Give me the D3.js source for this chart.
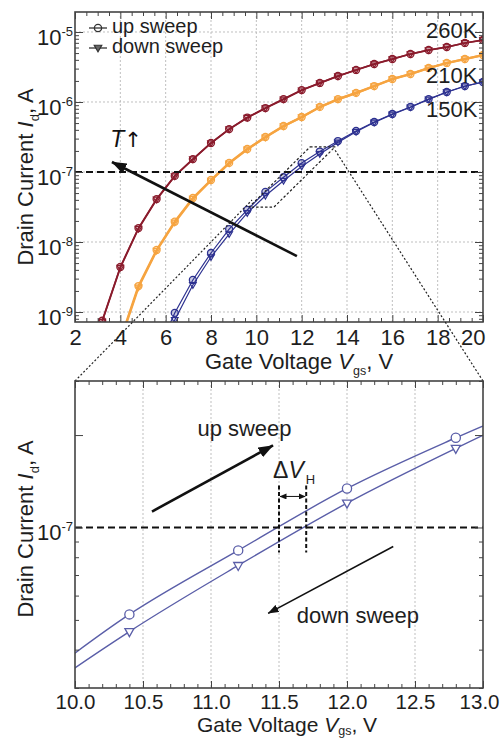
<!DOCTYPE html>
<html><head><meta charset="utf-8">
<script src="https://cdn.jsdelivr.net/npm/d3@7"></script>
<style>
body{margin:0;background:#fff}
text{font-family:"Liberation Sans",Arial,"DejaVu Sans",sans-serif;fill:#1e1e1e}
</style>
</head><body>
<svg id="c" width="502" height="738"></svg>
<script>
// ---------- data ----------
const vgs = [3.2,4.0,4.8,5.6,6.4,7.2,8.0,8.8,9.6,10.4,11.2,12.0,12.8,13.6,14.4,15.2,16.0,16.8,17.6,18.4,19.2,20.0];
const up260   = [7.5e-10,4.4e-9,1.58e-8,4.1e-8,8.8e-8,1.53e-7,2.6e-7,4.1e-7,6.0e-7,8.2e-7,1.1e-6,1.48e-6,1.87e-6,2.35e-6,2.87e-6,3.49e-6,4.11e-6,4.85e-6,5.53e-6,6.1e-6,6.97e-6,7.69e-6];
const down260 = [7.3e-10,4.3e-9,1.55e-8,4.05e-8,8.7e-8,1.52e-7,2.58e-7,4.08e-7,5.96e-7,8.15e-7,1.09e-6,1.47e-6,1.86e-6,2.34e-6,2.86e-6,3.48e-6,4.1e-6,4.84e-6,5.52e-6,6.09e-6,6.96e-6,7.68e-6];
const up210   = [null,4.0e-10,2.35e-9,7.7e-9,1.95e-8,4.25e-8,7.7e-8,1.35e-7,2.13e-7,3.16e-7,4.54e-7,6.1e-7,8.5e-7,1.1e-6,1.35e-6,1.69e-6,2.13e-6,2.51e-6,3.06e-6,3.61e-6,4.11e-6,4.69e-6];
const down210 = [null,3.8e-10,2.25e-9,7.5e-9,1.9e-8,4.15e-8,7.55e-8,1.33e-7,2.1e-7,3.12e-7,4.5e-7,6.05e-7,8.45e-7,1.09e-6,1.34e-6,1.68e-6,2.12e-6,2.5e-6,3.05e-6,3.6e-6,4.1e-6,4.68e-6];
const up150   = [null,null,null,2.5e-10,9.7e-10,2.87e-9,6.97e-9,1.53e-8,2.87e-8,5.21e-8,8.42e-8,1.34e-7,1.96e-7,2.77e-7,3.85e-7,5.18e-7,6.74e-7,8.5e-7,1.1e-6,1.39e-6,1.69e-6,1.93e-6];
const down150 = [null,null,null,1.8e-10,7.7e-10,2.43e-9,6.1e-9,1.3e-8,2.6e-8,4.58e-8,7.52e-8,1.2e-7,1.81e-7,2.65e-7,3.75e-7,5.1e-7,6.65e-7,8.4e-7,1.09e-6,1.38e-6,1.68e-6,1.92e-6];
const tempLabels = ["260K","210K","150K"];
const tempLabelPos = [8.2e-6,1.87e-6,6.1e-7];
const topXTicks = [2,4,6,8,10,12,14,16,18,20];
const topYTicks = [1e-9,1e-8,1e-7,1e-6,1e-5];
const botXTicks = [10.0,10.5,11.0,11.5,12.0,12.5,13.0];
const botYTicks = [1e-7];
const refCurrent = 1e-7;
const dVH = [11.5,11.7];

// ---------- setup ----------
const svg = d3.select("#c");
const xT = d3.scaleLinear().domain([2,20]).range([75,483]);
const yT = d3.scaleLog().domain([7.2e-10,1.93e-5]).range([322,12]);
const xB = d3.scaleLinear().domain([10,13]).range([75,483]);
const yB = d3.scaleLog().domain([3e-8,3e-7]).range([688,381]);

const defs = svg.append("defs");
function clip(id,x,y){defs.append("clipPath").attr("id",id).append("rect")
  .attr("x",x.range()[0]).attr("y",y.range()[1]).attr("width",x.range()[1]-x.range()[0]).attr("height",y.range()[0]-y.range()[1]);}
clip("clipT",xT,yT); clip("clipB",xB,yB);
function arrowDef(id,len,wid){
  defs.append("marker").attr("id",id).attr("markerUnits","userSpaceOnUse")
    .attr("viewBox",`0 ${-wid/2} ${len} ${wid}`).attr("refX",len-0.5).attr("refY",0)
    .attr("markerWidth",len).attr("markerHeight",wid).attr("orient","auto-start-reverse")
    .append("path").attr("d",`M0,${-wid/2}L${len},0L0,${wid/2}Z`).attr("fill","#111");
}
arrowDef("ahBig",15,11); arrowDef("ahMid",11,8); arrowDef("ahSmall",7,6);

const gridCol="#b8b8b8", axisCol="#444";

function logMinor(dom){const out=[];for(let e=-11;e<=-4;e++)for(let k=1;k<=9;k++){const v=k*Math.pow(10,e);if(v>=dom[0]*0.999&&v<=dom[1]*1.001)out.push(v);}return out;}

function frame(x,y,xMinorStep,xMajor,yMajor){
  const g=svg.append("g");
  const x0=x.range()[0],x1=x.range()[1],y0=y.range()[0],y1=y.range()[1];
  const xm=d3.range(x.domain()[0],x.domain()[1]+1e-9,xMinorStep);
  const ym=logMinor(y.domain());
  const isMaj=(arr,v)=>arr.some(a=>Math.abs(a-v)/Math.abs(a)<1e-6);
  [[d3.axisBottom,y0],[d3.axisTop,y1]].forEach(([ax,pos])=>{
    g.append("g").attr("transform",`translate(0,${pos})`).call(ax(x).tickValues(xm).tickSize(-4).tickFormat("").tickSizeOuter(0))
     .call(s=>{s.select(".domain").remove();s.selectAll("line").attr("stroke",axisCol).attr("y2",d=>isMaj(xMajor,d)?(pos===y0?-7:7):(pos===y0?-4:4));});
  });
  [[d3.axisLeft,x0],[d3.axisRight,x1]].forEach(([ax,pos])=>{
    g.append("g").attr("transform",`translate(${pos},0)`).call(ax(y).tickValues(ym).tickSize(-4).tickFormat("").tickSizeOuter(0))
     .call(s=>{s.select(".domain").remove();s.selectAll("line").attr("stroke",axisCol).attr("x2",d=>isMaj(yMajor,d)?(pos===x0?8:-8):(pos===x0?4:-4));});
  });
  g.append("rect").attr("x",x0).attr("y",y1).attr("width",x1-x0).attr("height",y0-y1)
    .attr("fill","none").attr("stroke",axisCol).attr("stroke-width",1.6);
}

function yLabels(scale,vals){
  vals.forEach(v=>{
    const e=Math.round(Math.log10(v));
    const t=svg.append("text").attr("x",73).attr("y",scale(v)+13).attr("text-anchor","end").attr("font-size",22);
    t.append("tspan").text("10");
    t.append("tspan").attr("font-size",13).attr("dy",-9).text(String(e));
  });
}
function xLabels(x,y,vals,fmt,pad,fs,lastEnd){
  const g=svg.append("g").attr("transform",`translate(0,${y.range()[0]})`)
    .call(d3.axisBottom(x).tickValues(vals).tickSize(0).tickPadding(pad).tickFormat(fmt))
    .call(s=>{s.select(".domain").remove();s.selectAll("text").attr("font-size",fs).attr("font-family",'"Liberation Sans",Arial,sans-serif').attr("fill","#1e1e1e");});
  const last=g.selectAll(".tick").filter((d,i,n)=>i===n.length-1);
  last.select("text").attr("text-anchor","end").attr("x",lastEnd-x.range()[1]);
}
function xTitle(xpos,ypos,sub,fs){
  const t=svg.append("text").attr("x",xpos).attr("y",ypos).attr("text-anchor","middle").attr("font-size",fs);
  t.append("tspan").text("Gate Voltage ");
  t.append("tspan").attr("font-style","italic").text("V");
  t.append("tspan").attr("font-size",12.5).attr("dy",sub).text("gs");
  t.append("tspan").attr("dy",-sub).text(", V");
}
function yTitle(xpos,ypos){
  const t=svg.append("text").attr("transform",`translate(${xpos},${ypos}) rotate(-90)`).attr("text-anchor","middle").attr("font-size",22);
  t.append("tspan").text("Drain Current ");
  t.append("tspan").attr("font-style","italic").text("I");
  t.append("tspan").attr("font-size",13).attr("dy",6).text("d");
  t.append("tspan").attr("dy",-6).text(", A");
}
const triPath=(w,h)=>`M${-w/2},${-h/2}L${w/2},${-h/2}L0,${h/2}Z`;

// ---------- TOP CHART ----------
const gTgrid=svg.append("g");
gTgrid.selectAll("line.v").data([4,6,8,10,12,14,16,18]).join("line")
  .attr("x1",d=>xT(d)).attr("x2",d=>xT(d)).attr("y1",yT.range()[1]).attr("y2",yT.range()[0])
  .attr("stroke",gridCol).attr("stroke-width",0.9).attr("stroke-dasharray","2,2");
gTgrid.selectAll("line.h").data(topYTicks).join("line")
  .attr("x1",xT.range()[0]).attr("x2",xT.range()[1]).attr("y1",d=>yT(d)).attr("y2",d=>yT(d))
  .attr("stroke",gridCol).attr("stroke-width",0.9).attr("stroke-dasharray","2,2");

const series=[
  {up:up260,down:down260,color:"#8a1b2c",w:1.7},
  {up:up210,down:down210,color:"#f6a440",w:2.2},
  {up:up150,down:down150,color:"#2d3190",w:1.2}
];
const gT=svg.append("g").attr("clip-path","url(#clipT)");
const lineT=d3.line().defined(d=>d[1]!=null).x(d=>xT(d[0])).y(d=>yT(d[1]));
series.forEach(s=>{
  ["up","down"].forEach(k=>{
    const pts=vgs.map((v,i)=>[v,s[k][i]]);
    gT.append("path").attr("d",lineT(pts)).attr("fill","none").attr("stroke",s.color).attr("stroke-width",s.w);
  });
});
series.forEach(s=>{
  const pu=vgs.map((v,i)=>[v,s.up[i]]).filter(d=>d[1]!=null);
  const pd=vgs.map((v,i)=>[v,s.down[i]]).filter(d=>d[1]!=null);
  gT.selectAll(null).data(pu).join("circle").attr("cx",d=>xT(d[0])).attr("cy",d=>yT(d[1])).attr("r",3.5)
    .attr("fill",s.color).attr("fill-opacity",0.25).attr("stroke",s.color).attr("stroke-width",1.3);
  gT.selectAll(null).data(pd).join("path").attr("transform",d=>`translate(${xT(d[0])},${yT(d[1])+0.5})`)
    .attr("d",triPath(6.6,5.6)).attr("fill","none").attr("stroke",s.color).attr("stroke-width",1.2);
});
svg.append("line").attr("x1",xT.range()[0]).attr("x2",xT.range()[1]).attr("y1",yT(refCurrent)).attr("y2",yT(refCurrent))
  .attr("stroke","#111").attr("stroke-width",2).attr("stroke-dasharray","7,4");
frame(xT,yT,0.5,topXTicks,topYTicks);
yLabels(yT,topYTicks);
xLabels(xT,yT,topXTicks,d3.format("d"),7,22,485);
xTitle(299,369,6,22);
yTitle(33,177);

tempLabels.forEach((lab,i)=>{
  svg.append("text").attr("x",xT(19.75)).attr("y",yT(tempLabelPos[i])).attr("text-anchor","end").attr("font-size",22).text(lab);
});
// legend
const leg=[{lab:"up sweep",sym:"c",y:28},{lab:"down sweep",sym:"t",y:48}];
leg.forEach(l=>{
  svg.append("line").attr("x1",89).attr("x2",107).attr("y1",l.y).attr("y2",l.y).attr("stroke","#333").attr("stroke-width",1.3);
  if(l.sym==="c") svg.append("circle").attr("cx",98).attr("cy",l.y).attr("r",3.6).attr("fill","none").attr("stroke","#333").attr("stroke-width",1.3);
  else svg.append("path").attr("transform",`translate(98,${l.y+0.5})`).attr("d",triPath(7.5,6.5)).attr("fill","#666").attr("stroke","#333").attr("stroke-width",1.2);
  svg.append("text").attr("x",112).attr("y",l.y+5).attr("font-size",20).text(l.lab);
});
// T arrow
svg.append("line").attr("x1",xT(11.79)).attr("y1",yT(6.3e-9)).attr("x2",xT(3.63)).attr("y2",yT(1.39e-7))
  .attr("stroke","#111").attr("stroke-width",2.6).attr("marker-end","url(#ahBig)");
const tt=svg.append("text").attr("x",xT(3.55)).attr("y",yT(2.3e-7)).attr("font-size",23).style("fill","#111");
tt.append("tspan").attr("font-style","italic").text("T");
tt.append("tspan").style("font-family","'DejaVu Sans'").style("fill","#111").attr("font-size",21).text("\u2191");

// zoom region parallelogram
const para=[[12.37,2.28e-7],[13.47,2.28e-7],[10.78,3.16e-8],[9.68,3.16e-8]];
svg.append("path").attr("d",d3.line().x(d=>xT(d[0])).y(d=>yT(d[1])).curve(d3.curveLinearClosed)(para))
  .attr("fill","none").attr("stroke","#222").attr("stroke-width",1.2).attr("stroke-dasharray","2.5,2").attr("stroke-linejoin","round");
svg.append("line").attr("x1",xB.range()[0]).attr("y1",yB.range()[1]).attr("x2",xT(9.81)).attr("y2",yT(3.98e-8))
  .attr("stroke","#222").attr("stroke-width",1.2).attr("stroke-dasharray","2,2");
svg.append("line").attr("x1",xB.range()[1]).attr("y1",yB.range()[1]).attr("x2",xT(13.47)).attr("y2",yT(2.06e-7))
  .attr("stroke","#222").attr("stroke-width",1.2).attr("stroke-dasharray","2,2");

// ---------- BOTTOM CHART ----------
svg.append("g").selectAll("line").data([10.5,11,11.5,12,12.5]).join("line")
  .attr("x1",d=>xB(d)).attr("x2",d=>xB(d)).attr("y1",yB.range()[1]).attr("y2",yB.range()[0])
  .attr("stroke",gridCol).attr("stroke-width",0.9).attr("stroke-dasharray","2,2");
const gB=svg.append("g").attr("clip-path","url(#clipB)");
const bCol="#5a5ea8";
const lineB=d3.line().defined(d=>d[1]!=null).x(d=>xB(d[0])).y(d=>yB(d[1])).curve(d3.curveMonotoneX);
[up150,down150].forEach(arr=>{
  const pts=vgs.map((v,i)=>[v,arr[i]]).filter(d=>d[1]!=null);
  gB.append("path").attr("d",lineB(pts)).attr("fill","none").attr("stroke",bCol).attr("stroke-width",1.4);
});
svg.append("line").attr("x1",xB.range()[0]).attr("x2",xB.range()[1]).attr("y1",yB(refCurrent)).attr("y2",yB(refCurrent))
  .attr("stroke","#111").attr("stroke-width",2).attr("stroke-dasharray","7,4");
const inB=d=>d[1]!=null&&d[0]>=10&&d[0]<=13;
gB.selectAll(null).data(vgs.map((v,i)=>[v,up150[i]]).filter(inB)).join("circle")
  .attr("cx",d=>xB(d[0])).attr("cy",d=>yB(d[1])).attr("r",4.6).attr("fill","#fff").attr("stroke",bCol).attr("stroke-width",1.3);
gB.selectAll(null).data(vgs.map((v,i)=>[v,down150[i]]).filter(inB)).join("path")
  .attr("transform",d=>`translate(${xB(d[0])},${yB(d[1])+1})`).attr("d",triPath(9,8)).attr("fill","#fff").attr("stroke",bCol).attr("stroke-width",1.3);

frame(xB,yB,0.1,botXTicks,[2e-7,1e-7]);
yLabels(yB,botYTicks);
xLabels(xB,yB,botXTicks,d3.format(".1f"),6,20.5,499);
xTitle(287,732,3,21);
yTitle(33,529);

// annotations
svg.append("line").attr("x1",xB(10.566)).attr("y1",yB(1.127e-7)).attr("x2",xB(11.456)).attr("y2",yB(1.85e-7))
  .attr("stroke","#111").attr("stroke-width",2.6).attr("marker-end","url(#ahBig)");
svg.append("text").attr("x",xB(10.9)).attr("y",yB(1.99e-7)).attr("font-size",22).text("up sweep");
svg.append("line").attr("x1",xB(12.34)).attr("y1",yB(8.67e-8)).attr("x2",xB(11.42)).attr("y2",yB(5.25e-8))
  .attr("stroke","#111").attr("stroke-width",1.6).attr("marker-end","url(#ahMid)");
svg.append("text").attr("x",xB(11.63)).attr("y",yB(4.87e-8)).attr("font-size",22).text("down sweep");
dVH.forEach(v=>{
  svg.append("line").attr("x1",xB(v)).attr("x2",xB(v)).attr("y1",yB(1.37e-7)).attr("y2",yB(8.29e-8))
    .attr("stroke","#111").attr("stroke-width",2).attr("stroke-dasharray","4,2.5");
});
svg.append("line").attr("x1",xB(dVH[0])+1).attr("x2",xB(dVH[1])-1).attr("y1",yB(1.262e-7)).attr("y2",yB(1.262e-7))
  .attr("stroke","#111").attr("stroke-width",1).attr("marker-start","url(#ahSmall)").attr("marker-end","url(#ahSmall)");
const dv=svg.append("text").attr("x",xB(11.456)).attr("y",yB(1.45e-7)).attr("font-size",23);
dv.append("tspan").text("\u0394");
dv.append("tspan").attr("font-style","italic").text("V");
dv.append("tspan").attr("font-size",13).attr("dy",6).attr("dx",2).text("H");
</script>
</body></html>
